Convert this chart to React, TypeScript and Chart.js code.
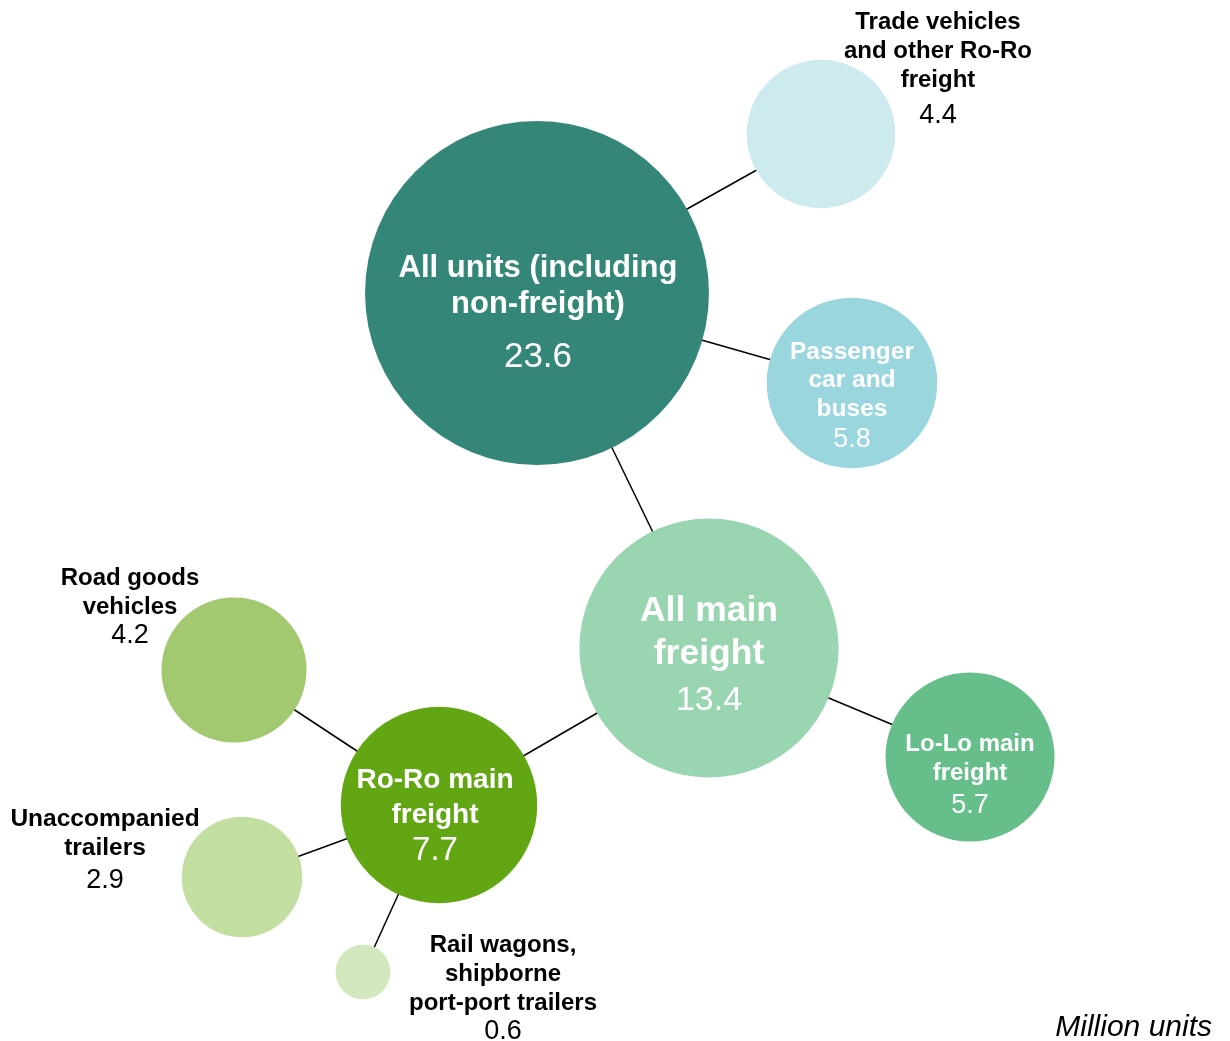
import React, { useEffect, useRef } from "react";
import { Chart, registerables } from "chart.js";

Chart.register(...registerables);

// ---- data ----
const names = [
  "All units (including non-freight)",
  "Trade vehicles and other Ro-Ro freight",
  "Passenger car and buses",
  "All main freight",
  "Lo-Lo main freight",
  "Ro-Ro main freight",
  "Road goods vehicles",
  "Unaccompanied trailers",
  "Rail wagons, shipborne port-port trailers",
];
const values = [23.6, 4.4, 5.8, 13.4, 5.7, 7.7, 4.2, 2.9, 0.6];
// bubble positions on the (hidden) layout axes
const posX = [53.7, 82.1, 85.2, 70.9, 97.0, 43.9, 23.4, 24.2, 36.3];
const posY = [29.3, 13.4, 38.3, 64.8, 75.7, 80.5, 67.0, 87.7, 97.2];
// parent -> child links
const links: [number, number][] = [
  [0, 1], [0, 2], [0, 3], [3, 4], [3, 5], [5, 6], [5, 7], [5, 8],
];

// ---- styles ----
const colors = [
  "#348778", "#CDEBEE", "#9AD6DE", "#9AD5B1", "#66BF8A",
  "#62A713", "#A3C970", "#C3DEA1", "#D3E8BE",
];
const RADIUS_SCALE = 35.4;
const TEXT_SHIFT = 2;

type LabelStyle = {
  lines: string[];
  color: string;
  size: number;
  valueSize: number;
  dx: number;
  lineY: number[];
  valueY: number;
};
const labelStyles: LabelStyle[] = [
  { lines: ["All units (including", "non-freight)"], color: "#ffffff", size: 31, valueSize: 35, dx: 1, lineY: [-27, 9], valueY: 61 },
  { lines: ["Trade vehicles", "and other Ro-Ro", "freight"], color: "#000000", size: 24, valueSize: 27, dx: 117, lineY: [-114, -85, -56], valueY: -21 },
  { lines: ["Passenger", "car and", "buses"], color: "#ffffff", size: 24.5, valueSize: 27, dx: 0, lineY: [-33, -5, 24], valueY: 54 },
  { lines: ["All main", "freight"], color: "#ffffff", size: 35.5, valueSize: 34, dx: 0, lineY: [-39, 4], valueY: 50 },
  { lines: ["Lo-Lo main", "freight"], color: "#ffffff", size: 24, valueSize: 27, dx: 0, lineY: [-15, 14], valueY: 46 },
  { lines: ["Ro-Ro main", "freight"], color: "#ffffff", size: 28, valueSize: 33, dx: -4, lineY: [-27, 8], valueY: 43 },
  { lines: ["Road goods", "vehicles"], color: "#000000", size: 24, valueSize: 27, dx: -104, lineY: [-94, -65], valueY: -37 },
  { lines: ["Unaccompanied", "trailers"], color: "#000000", size: 24.5, valueSize: 27, dx: -137, lineY: [-60, -31], valueY: 1 },
  { lines: ["Rail wagons,", "shipborne", "port-port trailers"], color: "#000000", size: 24, valueSize: 27, dx: 140, lineY: [-29, 0, 29], valueY: 57 },
];

const FONT = "'Liberation Sans', Arial, sans-serif";

const labelPlugin = {
  id: "bubbleLabels",
  afterDatasetsDraw(chart: any) {
    const meta = chart.getDatasetMeta(0);
    const ctx = chart.ctx;
    ctx.save();
    ctx.textAlign = "center";
    ctx.textBaseline = "middle";
    meta.data.forEach((el: any, i: number) => {
      const s = labelStyles[i];
      const cx = el.x + s.dx;
      const cy = el.y + TEXT_SHIFT;
      ctx.fillStyle = s.color;
      ctx.font = `bold ${s.size}px ${FONT}`;
      s.lines.forEach((ln, j) => ctx.fillText(ln, cx, cy + s.lineY[j]));
      ctx.font = `${s.valueSize}px ${FONT}`;
      ctx.fillText(values[i].toFixed(1), cx, cy + s.valueY + 1);
    });
    // unit note
    ctx.fillStyle = "#000000";
    ctx.textAlign = "right";
    ctx.font = `italic 30px ${FONT}`;
    ctx.fillText("Million units", chart.width - 18, chart.height - 13);
    ctx.restore();
  },
};

export default function App() {
  const ref = useRef<HTMLCanvasElement | null>(null);
  useEffect(() => {
    document.body.style.margin = "0";
    const canvas = ref.current;
    if (!canvas) return;
    const bubbleData = values.map((v, i) => ({
      x: posX[i],
      y: posY[i],
      r: Math.sqrt(v) * RADIUS_SCALE,
    }));
    const lineSets = links.map(([a, b]) => ({
      type: "line" as const,
      label: `${names[a]} - ${names[b]}`,
      data: [
        { x: posX[a], y: posY[a] },
        { x: posX[b], y: posY[b] },
      ],
      borderColor: "#000000",
      borderWidth: 1.5,
      pointRadius: 0,
      fill: false,
      order: 2,
      clip: false,
    }));
    const chart = new Chart(canvas, {
      type: "bubble",
      data: {
        datasets: [
          {
            type: "bubble",
            label: "Units",
            data: bubbleData,
            backgroundColor: colors,
            borderWidth: 0,
            hoverBorderWidth: 0,
            order: 1,
            clip: false,
          } as any,
          ...lineSets,
        ],
      },
      options: {
        animation: false,
        responsive: false,
        events: [],
        layout: { padding: 0, autoPadding: false },
        plugins: {
          legend: { display: false },
          tooltip: { enabled: false },
        },
        scales: {
          x: { type: "linear", min: 0, max: 123, display: false },
          y: { type: "linear", min: 0, max: 104.1, reverse: true, display: false },
        },
      },
      plugins: [labelPlugin],
    } as any);
    return () => chart.destroy();
  }, []);
  return (
    <div style={{ width: 1230, height: 1041, background: "#ffffff" }}>
      <canvas ref={ref} width={1230} height={1041} />
    </div>
  );
}
